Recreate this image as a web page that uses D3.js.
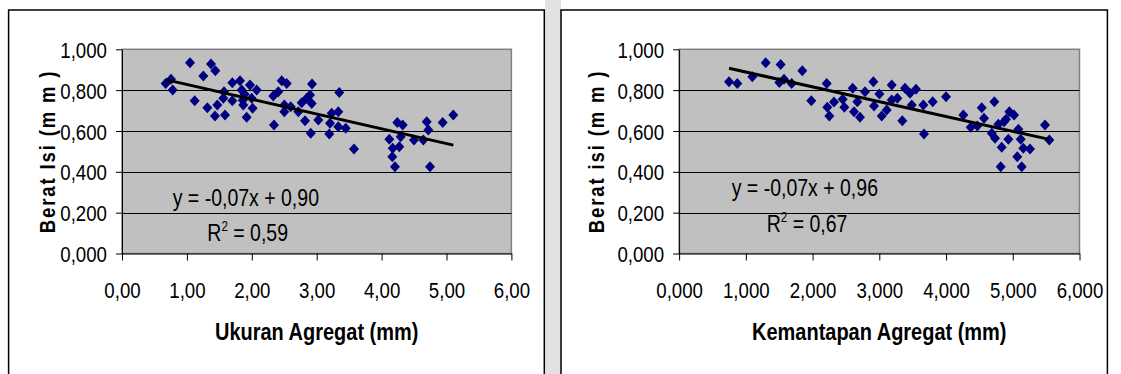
<!DOCTYPE html>
<html>
<head>
<meta charset="utf-8">
<script src="https://cdn.jsdelivr.net/npm/d3@7"></script>
<style>
  body { margin: 0; background: #fff; }
  svg { display: block; }
</style>
</head>
<body>
<svg id="chart" width="1121" height="374"></svg>
<script>
// data
const ukuranX = [0.673, 0.755, 0.781, 1.048, 1.120, 1.253, 1.371, 1.438, 1.315, 1.433, 1.469, 1.561, 1.587, 1.572,
  1.700, 1.700, 1.818, 1.844, 1.869, 1.921, 1.972, 1.998, 2.013, 2.075, 1.860, 1.890, 2.331, 2.342, 2.408, 2.461,
  2.501, 2.538, 2.501, 2.599, 2.717, 2.769, 2.820, 2.846, 2.897, 2.908, 2.928, 2.923, 3.025, 3.194, 3.205, 3.231,
  3.333, 3.348, 3.333, 3.447, 3.575, 4.119, 4.171, 4.165, 4.206, 4.242, 4.273, 4.294, 4.325, 4.499, 4.643, 4.695,
  4.720, 4.746, 4.941, 5.105];
const ukuranY = [0.833, 0.853, 0.801, 0.934, 0.748, 0.869, 0.928, 0.895, 0.714, 0.673, 0.727, 0.760, 0.678, 0.792,
  0.836, 0.748, 0.846, 0.801, 0.727, 0.667, 0.825, 0.760, 0.711, 0.801, 0.751, 0.780, 0.771, 0.629, 0.792, 0.846,
  0.694, 0.833, 0.727, 0.719, 0.694, 0.738, 0.650, 0.760, 0.776, 0.589, 0.830, 0.735, 0.654, 0.585, 0.638, 0.687,
  0.694, 0.788, 0.621, 0.613, 0.512, 0.559, 0.515, 0.474, 0.425, 0.641, 0.523, 0.572, 0.629, 0.556, 0.556, 0.645,
  0.605, 0.425, 0.641, 0.678];

const kemantapanX = [0.748, 0.872, 1.097, 1.298, 1.522, 1.502, 1.572, 1.687, 1.846, 1.981, 2.212, 2.221, 2.251, 2.321,
  2.451, 2.476, 2.601, 2.621, 2.671, 2.711, 2.786, 2.911, 2.921, 3.001, 3.036, 3.111, 3.186, 3.186, 3.270, 3.345,
  3.385, 3.460, 3.486, 3.550, 3.660, 3.670, 3.800, 4.000, 4.259, 4.370, 4.469, 4.535, 4.569, 4.724, 4.685, 4.734,
  4.784, 4.834, 4.869, 4.899, 4.949, 5.019, 4.934, 5.084, 5.119, 5.068, 5.158, 5.258, 5.483, 5.548, 4.819, 5.134];
const kemantapanY = [0.841, 0.833, 0.866, 0.934, 0.926, 0.837, 0.853, 0.833, 0.895, 0.748, 0.833, 0.716, 0.673, 0.742,
  0.755, 0.716, 0.809, 0.694, 0.743, 0.667, 0.792, 0.841, 0.722, 0.781, 0.673, 0.703, 0.825, 0.752, 0.760, 0.650,
  0.809, 0.785, 0.727, 0.804, 0.727, 0.585, 0.743, 0.768, 0.678, 0.618, 0.624, 0.714, 0.662, 0.743, 0.589, 0.564,
  0.633, 0.520, 0.645, 0.657, 0.694, 0.678, 0.559, 0.608, 0.559, 0.474, 0.515, 0.512, 0.629, 0.556, 0.425, 0.425];

// trend lines: [slope, intercept]
const ukuranTrend = [-0.0723, 0.900];
const kemantapanTrend = [-0.0725, 0.961];

const yTicks = [0, 0.2, 0.4, 0.6, 0.8, 1.0];
const xTicks = [0, 1, 2, 3, 4, 5, 6];

const FONT = '"Liberation Sans", Arial, sans-serif';
const SX = 0.83; // narrow look of the original font

const loc = d3.formatLocale({decimal: ",", thousands: ".", grouping: [3], currency: ["", ""]});

const svg = d3.select("#chart");

// strip between the two panels
svg.append("rect").attr("x", 545).attr("y", 0).attr("width", 16).attr("height", 374).attr("fill", "#e2e2e2");

function drawChart(c) {
  const g = svg.append("g");

  // panel frame
  g.append("rect")
    .attr("x", c.frame[0]).attr("y", 10)
    .attr("width", c.frame[1] - c.frame[0]).attr("height", 380)
    .attr("fill", "#fff").attr("stroke", "#000").attr("stroke-width", 1.5);

  const x = d3.scaleLinear().domain([0, 6]).range(c.xRange);
  const y = d3.scaleLinear().domain([0, 1]).range([253.5, 49.3]);

  // plot area
  g.append("rect")
    .attr("x", x(0)).attr("y", y(1))
    .attr("width", x(6) - x(0)).attr("height", y(0) - y(1))
    .attr("fill", "#c0c0c0").attr("stroke", "#808080").attr("stroke-width", 1.5);

  // gridlines
  g.selectAll(".grid").data(yTicks.filter(d => d > 0 && d < 1)).enter()
    .append("line")
    .attr("x1", x(0)).attr("x2", x(6))
    .attr("y1", d => Math.round(y(d)) + 0.5).attr("y2", d => Math.round(y(d)) + 0.5)
    .attr("stroke", "#000").attr("stroke-width", 1);

  // axes
  const ya = g.append("g").attr("transform", `translate(${x(0)},0)`)
    .call(d3.axisLeft(y).tickValues(yTicks).tickSize(6).tickSizeOuter(0).tickFormat(loc.format(".3f")));
  ya.attr("font-size", 22.5).attr("font-family", FONT);
  ya.selectAll("text")
    .attr("x", 0).attr("dy", "0.36em").attr("fill", "#000")
    .attr("transform", `translate(-15,0) scale(${SX},1)`);

  const xa = g.append("g").attr("transform", `translate(0,${y(0)})`)
    .call(d3.axisBottom(x).tickValues(xTicks).tickSize(7).tickSizeOuter(0).tickFormat(loc.format(c.xFmt)));
  xa.attr("font-size", 22.5).attr("font-family", FONT);
  xa.selectAll("text")
    .attr("y", 0).attr("dy", 0).attr("fill", "#000")
    .attr("transform", `translate(0,44) scale(${SX},1)`);
  g.selectAll(".domain").attr("stroke", "#000");

  // points
  const diamond = {
    draw(ctx) {
      ctx.moveTo(0, -5.5); ctx.lineTo(5, 0); ctx.lineTo(0, 5.5); ctx.lineTo(-5, 0); ctx.closePath();
    }
  };
  const pts = c.xs.map((v, i) => [v, c.ys[i]]);
  g.selectAll(".pt").data(pts).enter()
    .append("path")
    .attr("d", d3.symbol().type(diamond))
    .attr("transform", d => `translate(${x(d[0])},${y(d[1])})`)
    .attr("fill", "#000080");

  // trend line
  const ext = d3.extent(c.xs);
  const line = d3.line().x(d => x(d)).y(d => y(c.trend[0] * d + c.trend[1]));
  g.append("path")
    .attr("d", line(ext))
    .attr("fill", "none").attr("stroke", "#000").attr("stroke-width", 3);

  // equation
  g.append("text")
    .attr("transform", `translate(${c.eq[0]},${c.eq[1]}) scale(${SX},1)`)
    .attr("font-family", FONT).attr("font-size", 23.5)
    .text(c.eqText);
  const r2 = g.append("text")
    .attr("transform", `translate(${c.r2[0]},${c.r2[1]}) scale(${SX},1)`)
    .attr("font-family", FONT).attr("font-size", 23.5);
  r2.append("tspan").text("R");
  r2.append("tspan").attr("font-size", 14).attr("dy", -10).text("2");
  r2.append("tspan").attr("dy", 10).text(" = " + c.r2Text);

  // axis titles
  g.append("text")
    .attr("transform", `translate(${(x(0) + x(6)) / 2},340) scale(0.85,1)`)
    .attr("text-anchor", "middle")
    .attr("font-family", FONT).attr("font-size", 23.5).attr("font-weight", "bold")
    .text(c.xTitle);
  g.append("text")
    .attr("transform", `translate(${c.yTitleX},${(y(0) + y(1)) / 2}) rotate(-90) scale(${SX},1)`)
    .attr("text-anchor", "middle")
    .attr("font-family", FONT).attr("font-size", 22.4).attr("font-weight", "bold")
    .attr("letter-spacing", 2.2)
    .text(c.yTitle);
}

drawChart({
  frame: [8.6, 544.3],
  xRange: [122, 511.4],
  xFmt: ".2f",
  xs: ukuranX, ys: ukuranY,
  trend: ukuranTrend,
  eq: [172.7, 206], eqText: "y = -0,07x + 0,90",
  r2: [207.3, 240.7], r2Text: "0,59",
  xTitle: "Ukuran Agregat (mm)",
  yTitle: "Berat Isi (m m )",
  yTitleX: 55
});

drawChart({
  frame: [561, 1107.4],
  xRange: [679.1, 1079.5],
  xFmt: ".3f",
  xs: kemantapanX, ys: kemantapanY,
  trend: kemantapanTrend,
  eq: [731.7, 196], eqText: "y = -0,07x + 0,96",
  r2: [766.7, 231.7], r2Text: "0,67",
  xTitle: "Kemantapan Agregat (mm)",
  yTitle: "Berat isi (m m )",
  yTitleX: 604
});
</script>
</body>
</html>
